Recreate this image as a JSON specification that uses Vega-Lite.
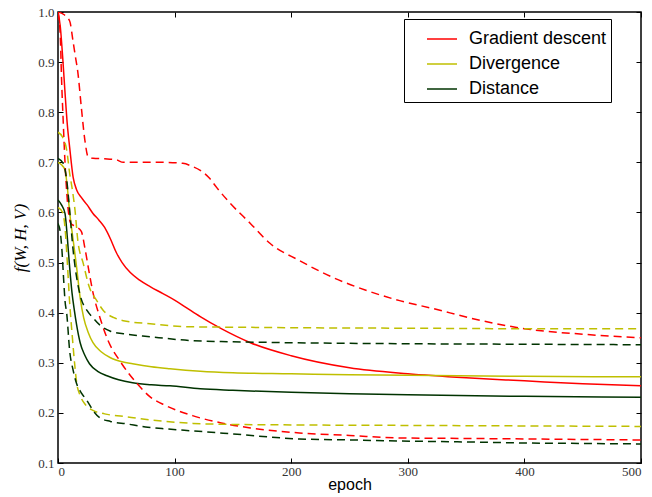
{
  "$schema": "https://vega.github.io/schema/vega-lite/v6.json",
  "autosize": {"type": "none"},
  "padding": {"left": 58, "top": 12, "right": 11, "bottom": 34},
  "width": 583,
  "height": 451,
  "background": "white",
  "config": {
    "view": {"stroke": "black", "strokeWidth": 1.5},
    "axis": {"grid": false, "domain": false, "tickColor": "black", "tickWidth": 1, "tickSize": -5, "labelFont": "Liberation Serif", "labelFontSize": 13, "labelColor": "#333333", "labelPadding": 9}
  },
  "resolve": {"axis": {"x": "independent", "y": "independent"}},
  "data": {"values": [
    {"method": "Gradient descent", "kind": "mean", "epoch": 0, "value": 1.0},
    {"method": "Gradient descent", "kind": "mean", "epoch": 2, "value": 0.97},
    {"method": "Gradient descent", "kind": "mean", "epoch": 4, "value": 0.91},
    {"method": "Gradient descent", "kind": "mean", "epoch": 6, "value": 0.84},
    {"method": "Gradient descent", "kind": "mean", "epoch": 8, "value": 0.775},
    {"method": "Gradient descent", "kind": "mean", "epoch": 10, "value": 0.73},
    {"method": "Gradient descent", "kind": "mean", "epoch": 13, "value": 0.67},
    {"method": "Gradient descent", "kind": "mean", "epoch": 16, "value": 0.645},
    {"method": "Gradient descent", "kind": "mean", "epoch": 20, "value": 0.63},
    {"method": "Gradient descent", "kind": "mean", "epoch": 25, "value": 0.615},
    {"method": "Gradient descent", "kind": "mean", "epoch": 30, "value": 0.598},
    {"method": "Gradient descent", "kind": "mean", "epoch": 35, "value": 0.585},
    {"method": "Gradient descent", "kind": "mean", "epoch": 40, "value": 0.57},
    {"method": "Gradient descent", "kind": "mean", "epoch": 45, "value": 0.547},
    {"method": "Gradient descent", "kind": "mean", "epoch": 50, "value": 0.52},
    {"method": "Gradient descent", "kind": "mean", "epoch": 55, "value": 0.5},
    {"method": "Gradient descent", "kind": "mean", "epoch": 62, "value": 0.48},
    {"method": "Gradient descent", "kind": "mean", "epoch": 70, "value": 0.465},
    {"method": "Gradient descent", "kind": "mean", "epoch": 79, "value": 0.452},
    {"method": "Gradient descent", "kind": "mean", "epoch": 90, "value": 0.438},
    {"method": "Gradient descent", "kind": "mean", "epoch": 100, "value": 0.425},
    {"method": "Gradient descent", "kind": "mean", "epoch": 110, "value": 0.41},
    {"method": "Gradient descent", "kind": "mean", "epoch": 122, "value": 0.392},
    {"method": "Gradient descent", "kind": "mean", "epoch": 140, "value": 0.368},
    {"method": "Gradient descent", "kind": "mean", "epoch": 165, "value": 0.34},
    {"method": "Gradient descent", "kind": "mean", "epoch": 200, "value": 0.314},
    {"method": "Gradient descent", "kind": "mean", "epoch": 250, "value": 0.29},
    {"method": "Gradient descent", "kind": "mean", "epoch": 300, "value": 0.278},
    {"method": "Gradient descent", "kind": "mean", "epoch": 350, "value": 0.27},
    {"method": "Gradient descent", "kind": "mean", "epoch": 400, "value": 0.264},
    {"method": "Gradient descent", "kind": "mean", "epoch": 450, "value": 0.258},
    {"method": "Gradient descent", "kind": "mean", "epoch": 500, "value": 0.254},

    {"method": "Gradient descent", "kind": "upper", "epoch": 0, "value": 1.0},
    {"method": "Gradient descent", "kind": "upper", "epoch": 5, "value": 0.995},
    {"method": "Gradient descent", "kind": "upper", "epoch": 10, "value": 0.982},
    {"method": "Gradient descent", "kind": "upper", "epoch": 13, "value": 0.94},
    {"method": "Gradient descent", "kind": "upper", "epoch": 15, "value": 0.91},
    {"method": "Gradient descent", "kind": "upper", "epoch": 17, "value": 0.88},
    {"method": "Gradient descent", "kind": "upper", "epoch": 20, "value": 0.81},
    {"method": "Gradient descent", "kind": "upper", "epoch": 23, "value": 0.745},
    {"method": "Gradient descent", "kind": "upper", "epoch": 26, "value": 0.71},
    {"method": "Gradient descent", "kind": "upper", "epoch": 30, "value": 0.708},
    {"method": "Gradient descent", "kind": "upper", "epoch": 40, "value": 0.707},
    {"method": "Gradient descent", "kind": "upper", "epoch": 50, "value": 0.705},
    {"method": "Gradient descent", "kind": "upper", "epoch": 56, "value": 0.70},
    {"method": "Gradient descent", "kind": "upper", "epoch": 70, "value": 0.70},
    {"method": "Gradient descent", "kind": "upper", "epoch": 90, "value": 0.70},
    {"method": "Gradient descent", "kind": "upper", "epoch": 107, "value": 0.698},
    {"method": "Gradient descent", "kind": "upper", "epoch": 115, "value": 0.692},
    {"method": "Gradient descent", "kind": "upper", "epoch": 122, "value": 0.684},
    {"method": "Gradient descent", "kind": "upper", "epoch": 130, "value": 0.668},
    {"method": "Gradient descent", "kind": "upper", "epoch": 136, "value": 0.65},
    {"method": "Gradient descent", "kind": "upper", "epoch": 147, "value": 0.62},
    {"method": "Gradient descent", "kind": "upper", "epoch": 165, "value": 0.578},
    {"method": "Gradient descent", "kind": "upper", "epoch": 182, "value": 0.538},
    {"method": "Gradient descent", "kind": "upper", "epoch": 207, "value": 0.504},
    {"method": "Gradient descent", "kind": "upper", "epoch": 236, "value": 0.47},
    {"method": "Gradient descent", "kind": "upper", "epoch": 265, "value": 0.444},
    {"method": "Gradient descent", "kind": "upper", "epoch": 293, "value": 0.424},
    {"method": "Gradient descent", "kind": "upper", "epoch": 322, "value": 0.408},
    {"method": "Gradient descent", "kind": "upper", "epoch": 356, "value": 0.388},
    {"method": "Gradient descent", "kind": "upper", "epoch": 400, "value": 0.368},
    {"method": "Gradient descent", "kind": "upper", "epoch": 450, "value": 0.357},
    {"method": "Gradient descent", "kind": "upper", "epoch": 500, "value": 0.35},

    {"method": "Gradient descent", "kind": "lower", "epoch": 0, "value": 1.0},
    {"method": "Gradient descent", "kind": "lower", "epoch": 2, "value": 0.95},
    {"method": "Gradient descent", "kind": "lower", "epoch": 3, "value": 0.87},
    {"method": "Gradient descent", "kind": "lower", "epoch": 4.5, "value": 0.78},
    {"method": "Gradient descent", "kind": "lower", "epoch": 6, "value": 0.70},
    {"method": "Gradient descent", "kind": "lower", "epoch": 7.5, "value": 0.64},
    {"method": "Gradient descent", "kind": "lower", "epoch": 9, "value": 0.60},
    {"method": "Gradient descent", "kind": "lower", "epoch": 11, "value": 0.578},
    {"method": "Gradient descent", "kind": "lower", "epoch": 15, "value": 0.572},
    {"method": "Gradient descent", "kind": "lower", "epoch": 20, "value": 0.562},
    {"method": "Gradient descent", "kind": "lower", "epoch": 23, "value": 0.53},
    {"method": "Gradient descent", "kind": "lower", "epoch": 26, "value": 0.49},
    {"method": "Gradient descent", "kind": "lower", "epoch": 30, "value": 0.44},
    {"method": "Gradient descent", "kind": "lower", "epoch": 36, "value": 0.39},
    {"method": "Gradient descent", "kind": "lower", "epoch": 43, "value": 0.344},
    {"method": "Gradient descent", "kind": "lower", "epoch": 53, "value": 0.304},
    {"method": "Gradient descent", "kind": "lower", "epoch": 68, "value": 0.258},
    {"method": "Gradient descent", "kind": "lower", "epoch": 79, "value": 0.232},
    {"method": "Gradient descent", "kind": "lower", "epoch": 93, "value": 0.214},
    {"method": "Gradient descent", "kind": "lower", "epoch": 116, "value": 0.194},
    {"method": "Gradient descent", "kind": "lower", "epoch": 140, "value": 0.18},
    {"method": "Gradient descent", "kind": "lower", "epoch": 165, "value": 0.17},
    {"method": "Gradient descent", "kind": "lower", "epoch": 207, "value": 0.16},
    {"method": "Gradient descent", "kind": "lower", "epoch": 250, "value": 0.155},
    {"method": "Gradient descent", "kind": "lower", "epoch": 293, "value": 0.15},
    {"method": "Gradient descent", "kind": "lower", "epoch": 350, "value": 0.149},
    {"method": "Gradient descent", "kind": "lower", "epoch": 400, "value": 0.148},
    {"method": "Gradient descent", "kind": "lower", "epoch": 500, "value": 0.146},

    {"method": "Divergence", "kind": "mean", "epoch": 0, "value": 0.70},
    {"method": "Divergence", "kind": "mean", "epoch": 3, "value": 0.695},
    {"method": "Divergence", "kind": "mean", "epoch": 6, "value": 0.685},
    {"method": "Divergence", "kind": "mean", "epoch": 8, "value": 0.65},
    {"method": "Divergence", "kind": "mean", "epoch": 10, "value": 0.60},
    {"method": "Divergence", "kind": "mean", "epoch": 13, "value": 0.545},
    {"method": "Divergence", "kind": "mean", "epoch": 16, "value": 0.49},
    {"method": "Divergence", "kind": "mean", "epoch": 19, "value": 0.43},
    {"method": "Divergence", "kind": "mean", "epoch": 22, "value": 0.39},
    {"method": "Divergence", "kind": "mean", "epoch": 26, "value": 0.36},
    {"method": "Divergence", "kind": "mean", "epoch": 30, "value": 0.34},
    {"method": "Divergence", "kind": "mean", "epoch": 37, "value": 0.322},
    {"method": "Divergence", "kind": "mean", "epoch": 45, "value": 0.31},
    {"method": "Divergence", "kind": "mean", "epoch": 55, "value": 0.302},
    {"method": "Divergence", "kind": "mean", "epoch": 64, "value": 0.298},
    {"method": "Divergence", "kind": "mean", "epoch": 80, "value": 0.292},
    {"method": "Divergence", "kind": "mean", "epoch": 96, "value": 0.288},
    {"method": "Divergence", "kind": "mean", "epoch": 122, "value": 0.283},
    {"method": "Divergence", "kind": "mean", "epoch": 150, "value": 0.28},
    {"method": "Divergence", "kind": "mean", "epoch": 200, "value": 0.278},
    {"method": "Divergence", "kind": "mean", "epoch": 250, "value": 0.276},
    {"method": "Divergence", "kind": "mean", "epoch": 300, "value": 0.275},
    {"method": "Divergence", "kind": "mean", "epoch": 400, "value": 0.273},
    {"method": "Divergence", "kind": "mean", "epoch": 500, "value": 0.272},

    {"method": "Divergence", "kind": "upper", "epoch": 0, "value": 0.76},
    {"method": "Divergence", "kind": "upper", "epoch": 4, "value": 0.75},
    {"method": "Divergence", "kind": "upper", "epoch": 7.5, "value": 0.724},
    {"method": "Divergence", "kind": "upper", "epoch": 10, "value": 0.678},
    {"method": "Divergence", "kind": "upper", "epoch": 12, "value": 0.65},
    {"method": "Divergence", "kind": "upper", "epoch": 14.6, "value": 0.604},
    {"method": "Divergence", "kind": "upper", "epoch": 17, "value": 0.544},
    {"method": "Divergence", "kind": "upper", "epoch": 21.7, "value": 0.498},
    {"method": "Divergence", "kind": "upper", "epoch": 27, "value": 0.45},
    {"method": "Divergence", "kind": "upper", "epoch": 33, "value": 0.425},
    {"method": "Divergence", "kind": "upper", "epoch": 39, "value": 0.404},
    {"method": "Divergence", "kind": "upper", "epoch": 48, "value": 0.39},
    {"method": "Divergence", "kind": "upper", "epoch": 56, "value": 0.384},
    {"method": "Divergence", "kind": "upper", "epoch": 79, "value": 0.378},
    {"method": "Divergence", "kind": "upper", "epoch": 110, "value": 0.372},
    {"method": "Divergence", "kind": "upper", "epoch": 150, "value": 0.371},
    {"method": "Divergence", "kind": "upper", "epoch": 200, "value": 0.37},
    {"method": "Divergence", "kind": "upper", "epoch": 300, "value": 0.369},
    {"method": "Divergence", "kind": "upper", "epoch": 400, "value": 0.368},
    {"method": "Divergence", "kind": "upper", "epoch": 500, "value": 0.368},

    {"method": "Divergence", "kind": "lower", "epoch": 0, "value": 0.61},
    {"method": "Divergence", "kind": "lower", "epoch": 4, "value": 0.60},
    {"method": "Divergence", "kind": "lower", "epoch": 6, "value": 0.57},
    {"method": "Divergence", "kind": "lower", "epoch": 8, "value": 0.50},
    {"method": "Divergence", "kind": "lower", "epoch": 10, "value": 0.42},
    {"method": "Divergence", "kind": "lower", "epoch": 12, "value": 0.36},
    {"method": "Divergence", "kind": "lower", "epoch": 14.6, "value": 0.29},
    {"method": "Divergence", "kind": "lower", "epoch": 16, "value": 0.26},
    {"method": "Divergence", "kind": "lower", "epoch": 19, "value": 0.235},
    {"method": "Divergence", "kind": "lower", "epoch": 24, "value": 0.215},
    {"method": "Divergence", "kind": "lower", "epoch": 30, "value": 0.205},
    {"method": "Divergence", "kind": "lower", "epoch": 40, "value": 0.198},
    {"method": "Divergence", "kind": "lower", "epoch": 56, "value": 0.193},
    {"method": "Divergence", "kind": "lower", "epoch": 79, "value": 0.186},
    {"method": "Divergence", "kind": "lower", "epoch": 116, "value": 0.179},
    {"method": "Divergence", "kind": "lower", "epoch": 150, "value": 0.177},
    {"method": "Divergence", "kind": "lower", "epoch": 200, "value": 0.176},
    {"method": "Divergence", "kind": "lower", "epoch": 300, "value": 0.175},
    {"method": "Divergence", "kind": "lower", "epoch": 400, "value": 0.174},
    {"method": "Divergence", "kind": "lower", "epoch": 500, "value": 0.173},

    {"method": "Distance", "kind": "mean", "epoch": 0, "value": 0.625},
    {"method": "Distance", "kind": "mean", "epoch": 3, "value": 0.615},
    {"method": "Distance", "kind": "mean", "epoch": 6, "value": 0.598},
    {"method": "Distance", "kind": "mean", "epoch": 8, "value": 0.55},
    {"method": "Distance", "kind": "mean", "epoch": 10, "value": 0.49},
    {"method": "Distance", "kind": "mean", "epoch": 12, "value": 0.44},
    {"method": "Distance", "kind": "mean", "epoch": 14, "value": 0.405},
    {"method": "Distance", "kind": "mean", "epoch": 16, "value": 0.375},
    {"method": "Distance", "kind": "mean", "epoch": 19, "value": 0.34},
    {"method": "Distance", "kind": "mean", "epoch": 23, "value": 0.315},
    {"method": "Distance", "kind": "mean", "epoch": 27, "value": 0.298},
    {"method": "Distance", "kind": "mean", "epoch": 34, "value": 0.283},
    {"method": "Distance", "kind": "mean", "epoch": 42, "value": 0.274},
    {"method": "Distance", "kind": "mean", "epoch": 52, "value": 0.266},
    {"method": "Distance", "kind": "mean", "epoch": 64, "value": 0.26},
    {"method": "Distance", "kind": "mean", "epoch": 80, "value": 0.256},
    {"method": "Distance", "kind": "mean", "epoch": 96, "value": 0.254},
    {"method": "Distance", "kind": "mean", "epoch": 122, "value": 0.248},
    {"method": "Distance", "kind": "mean", "epoch": 150, "value": 0.245},
    {"method": "Distance", "kind": "mean", "epoch": 200, "value": 0.241},
    {"method": "Distance", "kind": "mean", "epoch": 250, "value": 0.238},
    {"method": "Distance", "kind": "mean", "epoch": 300, "value": 0.236},
    {"method": "Distance", "kind": "mean", "epoch": 400, "value": 0.233},
    {"method": "Distance", "kind": "mean", "epoch": 500, "value": 0.231},

    {"method": "Distance", "kind": "upper", "epoch": 0, "value": 0.708},
    {"method": "Distance", "kind": "upper", "epoch": 4.5, "value": 0.698},
    {"method": "Distance", "kind": "upper", "epoch": 7.5, "value": 0.664},
    {"method": "Distance", "kind": "upper", "epoch": 10, "value": 0.604},
    {"method": "Distance", "kind": "upper", "epoch": 13, "value": 0.524},
    {"method": "Distance", "kind": "upper", "epoch": 16, "value": 0.47},
    {"method": "Distance", "kind": "upper", "epoch": 19, "value": 0.435},
    {"method": "Distance", "kind": "upper", "epoch": 25, "value": 0.404},
    {"method": "Distance", "kind": "upper", "epoch": 30, "value": 0.39},
    {"method": "Distance", "kind": "upper", "epoch": 36, "value": 0.375},
    {"method": "Distance", "kind": "upper", "epoch": 45, "value": 0.363},
    {"method": "Distance", "kind": "upper", "epoch": 56, "value": 0.358},
    {"method": "Distance", "kind": "upper", "epoch": 79, "value": 0.352},
    {"method": "Distance", "kind": "upper", "epoch": 116, "value": 0.344},
    {"method": "Distance", "kind": "upper", "epoch": 150, "value": 0.342},
    {"method": "Distance", "kind": "upper", "epoch": 200, "value": 0.34},
    {"method": "Distance", "kind": "upper", "epoch": 300, "value": 0.338},
    {"method": "Distance", "kind": "upper", "epoch": 400, "value": 0.337},
    {"method": "Distance", "kind": "upper", "epoch": 500, "value": 0.336},

    {"method": "Distance", "kind": "lower", "epoch": 0, "value": 0.578},
    {"method": "Distance", "kind": "lower", "epoch": 2, "value": 0.56},
    {"method": "Distance", "kind": "lower", "epoch": 3.4, "value": 0.524},
    {"method": "Distance", "kind": "lower", "epoch": 5, "value": 0.46},
    {"method": "Distance", "kind": "lower", "epoch": 6, "value": 0.424},
    {"method": "Distance", "kind": "lower", "epoch": 7.5, "value": 0.398},
    {"method": "Distance", "kind": "lower", "epoch": 10, "value": 0.324},
    {"method": "Distance", "kind": "lower", "epoch": 13, "value": 0.285},
    {"method": "Distance", "kind": "lower", "epoch": 16, "value": 0.258},
    {"method": "Distance", "kind": "lower", "epoch": 20, "value": 0.24},
    {"method": "Distance", "kind": "lower", "epoch": 25, "value": 0.224},
    {"method": "Distance", "kind": "lower", "epoch": 30, "value": 0.205},
    {"method": "Distance", "kind": "lower", "epoch": 36, "value": 0.19},
    {"method": "Distance", "kind": "lower", "epoch": 45, "value": 0.183},
    {"method": "Distance", "kind": "lower", "epoch": 59, "value": 0.178},
    {"method": "Distance", "kind": "lower", "epoch": 75, "value": 0.172},
    {"method": "Distance", "kind": "lower", "epoch": 93, "value": 0.168},
    {"method": "Distance", "kind": "lower", "epoch": 116, "value": 0.164},
    {"method": "Distance", "kind": "lower", "epoch": 150, "value": 0.158},
    {"method": "Distance", "kind": "lower", "epoch": 207, "value": 0.148},
    {"method": "Distance", "kind": "lower", "epoch": 250, "value": 0.146},
    {"method": "Distance", "kind": "lower", "epoch": 293, "value": 0.144},
    {"method": "Distance", "kind": "lower", "epoch": 350, "value": 0.142},
    {"method": "Distance", "kind": "lower", "epoch": 400, "value": 0.14},
    {"method": "Distance", "kind": "lower", "epoch": 450, "value": 0.139},
    {"method": "Distance", "kind": "lower", "epoch": 500, "value": 0.138}
  ]},
  "layer": [
    {
      "transform": [{"filter": "datum.kind === 'mean'"}],
      "mark": {"type": "line", "strokeWidth": 1.5, "interpolate": "monotone", "clip": true},
      "encoding": {
        "x": {"field": "epoch", "type": "quantitative", "scale": {"domain": [0, 500], "nice": false, "zero": false},
          "axis": {"orient": "bottom", "values": [0, 100, 200, 300, 400, 500], "format": "d", "labelPadding": 7, "title": "epoch", "titleFont": "Liberation Sans", "titleFontSize": 16, "titleFontWeight": "normal", "titleColor": "black", "titlePadding": -2}},
        "y": {"field": "value", "type": "quantitative", "scale": {"domain": [0.1, 1.0], "nice": false, "zero": false},
          "axis": {"orient": "left", "values": [0.1, 0.2, 0.3, 0.4, 0.5, 0.6, 0.7, 0.8, 0.9, 1.0], "format": ".1f", "labelPadding": 9, "title": "f(W, H, V)", "titleFont": "Liberation Serif", "titleFontStyle": "italic", "titleFontSize": 17, "titleFontWeight": "normal", "titleColor": "black", "titlePadding": 8}},
        "color": {"field": "method", "type": "nominal",
          "scale": {"domain": ["Gradient descent", "Divergence", "Distance"], "range": ["#ff0000", "#bfbf00", "#003300"]},
          "legend": {"title": null, "orient": "none", "legendX": 346, "legendY": 7, "strokeColor": "black", "fillColor": "white", "padding": 4, "cornerRadius": 0, "symbolType": "stroke", "symbolSize": 900, "symbolStrokeWidth": 1.5, "symbolOffset": 18, "labelOffset": 11, "labelFontSize": 18, "labelFont": "Liberation Sans", "labelColor": "black", "labelLimit": 300, "rowPadding": -11}}
      }
    },
    {
      "transform": [{"filter": "datum.kind !== 'mean'"}],
      "mark": {"type": "line", "strokeWidth": 1.5, "interpolate": "monotone", "clip": true, "strokeDash": [8, 5]},
      "encoding": {
        "x": {"field": "epoch", "type": "quantitative", "axis": null},
        "y": {"field": "value", "type": "quantitative", "axis": null},
        "color": {"field": "method", "type": "nominal"},
        "detail": {"field": "kind", "type": "nominal"}
      }
    },
    {
      "mark": {"type": "point", "opacity": 0},
      "encoding": {
        "x": {"field": "epoch", "type": "quantitative", "axis": {"orient": "top", "values": [0, 100, 200, 300, 400, 500], "labels": false, "title": null}},
        "y": {"field": "value", "type": "quantitative", "axis": {"orient": "right", "values": [0.1, 0.2, 0.3, 0.4, 0.5, 0.6, 0.7, 0.8, 0.9, 1.0], "labels": false, "title": null}}
      }
    }
  ]
}
